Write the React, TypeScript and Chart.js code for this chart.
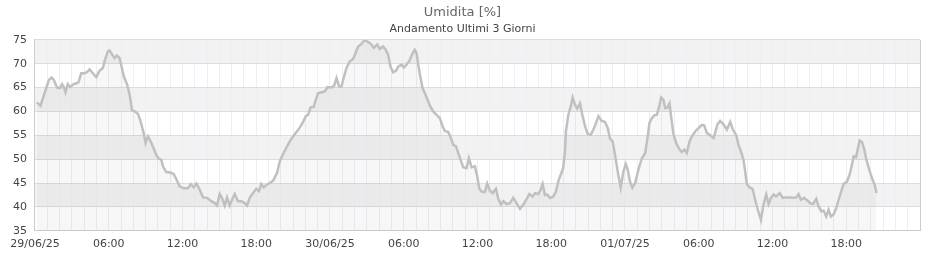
import React, { useEffect, useRef } from 'react';
import { Chart, registerables } from 'chart.js';

Chart.register(...registerables);

const titleText = 'Umidita [%]';
const subtitleText = 'Andamento Ultimi 3 Giorni';

// hours since 29/06/25 00:00
const hours = [
  0.15, 0.45, 0.77, 1.13, 1.34, 1.53, 1.8, 2.05, 2.2, 2.35, 2.48, 2.67, 2.86, 3.08, 3.35, 3.54, 3.76, 4.03, 4.22, 4.44,
  4.71, 4.98, 5.25, 5.52, 5.69, 5.93, 6.07, 6.28, 6.47, 6.66, 6.88, 7.04, 7.23, 7.5, 7.7, 7.89, 8.18, 8.4, 8.59, 8.84,
  9.0, 9.19, 9.38, 9.65, 9.87, 10.06, 10.27, 10.41, 10.68, 11.0, 11.28, 11.5, 11.77, 12.1, 12.45, 12.67, 12.91, 13.13, 13.34,
  13.67, 14.0, 14.35, 14.62, 14.81, 15.03, 15.24, 15.43, 15.62, 15.84, 16.03, 16.25, 16.52, 16.79, 17.06, 17.25, 17.47,
  17.74, 18.0, 18.22, 18.41, 18.6, 18.82, 19.1, 19.37, 19.69, 19.91, 20.18, 20.51, 20.86, 21.27, 21.54, 21.81, 22.03,
  22.22, 22.41, 22.68, 22.84, 23.03, 23.31, 23.58, 23.79, 24.12, 24.34, 24.53, 24.75, 24.93, 25.12, 25.34, 25.61, 25.88,
  26.07, 26.29, 26.56, 26.83, 27.1, 27.3, 27.56, 27.84, 28.05, 28.32, 28.54, 28.73, 28.92, 29.14, 29.36, 29.55, 29.82,
  30.01, 30.22, 30.44, 30.69, 30.9, 31.04, 31.18, 31.37, 31.53, 31.72, 31.91, 32.13, 32.4, 32.67, 32.94, 33.16, 33.35,
  33.62, 33.84, 34.03, 34.25, 34.43, 34.62, 34.84, 35.11, 35.3, 35.52, 35.79, 35.98, 36.14, 36.33, 36.6, 36.79, 37.01,
  37.23, 37.5, 37.69, 37.91, 38.1, 38.37, 38.64, 38.91, 39.18, 39.46, 39.73, 40.0, 40.22, 40.49, 40.68, 40.95, 41.14,
  41.3, 41.49, 41.68, 41.9, 42.17, 42.38, 42.57, 42.76, 42.97, 43.11, 43.19, 43.39, 43.58, 43.74, 43.93, 44.12, 44.34,
  44.53, 44.75, 44.96, 45.21, 45.43, 45.65, 45.84, 46.11, 46.38, 46.6, 46.78, 47.0, 47.19, 47.41, 47.65, 47.87, 48.06,
  48.22, 48.41, 48.6, 48.82, 49.09, 49.36, 49.64, 49.83, 49.99, 50.18, 50.4, 50.59, 50.78, 50.94, 51.13, 51.27, 51.45,
  51.62, 51.75, 51.94, 52.16, 52.44, 52.62, 52.84, 53.03, 53.25, 53.44, 53.71, 53.98, 54.25, 54.44, 54.66, 54.93, 55.2,
  55.33, 55.52, 55.74, 56.01, 56.29, 56.56, 56.78, 57.05, 57.23, 57.45, 57.64, 57.78, 57.91, 58.13, 58.38, 58.59, 58.81,
  59.06, 59.27, 59.49, 59.68, 59.87, 60.09, 60.3, 60.58, 60.84, 61.12, 61.45, 61.71, 61.93, 62.12, 62.31, 62.58, 62.86,
  63.07, 63.29, 63.56, 63.75, 63.97, 64.16, 64.37, 64.56, 64.75, 64.97, 65.19, 65.38, 65.59, 65.78, 66.05, 66.27, 66.46,
  66.6, 66.79, 66.93, 67.09, 67.28, 67.47, 67.64, 67.83, 68.1, 68.32, 68.46,
];

const humidity = [
  61.9, 61.2, 63.8, 66.6, 67.1, 66.6, 65.0, 64.9, 65.7, 65.1, 64.0, 65.7, 65.1, 65.6, 65.9, 66.1, 68.0, 68.0, 68.2, 68.8,
  68.0, 67.2, 68.5, 69.1, 70.8, 72.6, 72.8, 71.9, 71.2, 71.7, 71.2, 69.4, 67.3, 65.6, 63.5, 60.3, 59.9, 59.4, 57.9, 55.5,
  53.4, 54.8, 53.9, 52.3, 50.9, 50.1, 49.9, 48.5, 47.3, 47.2, 46.9, 45.8, 44.3, 43.9, 43.9, 44.8, 44.1, 44.9, 43.9,
  42.0, 41.9, 41.2, 40.8, 40.3, 42.7, 41.7, 40.3, 42.0, 40.3, 41.5, 42.7, 41.2, 41.2, 40.8, 40.3, 41.9,
  42.9, 43.8, 43.3, 44.8, 44.1, 44.6, 45.0, 45.5, 47.1, 49.5, 51.1, 52.7, 54.3, 55.7, 56.6, 57.8, 59.0,
  59.3, 60.8, 61.0, 62.4, 63.8, 64.0, 64.2, 65.1, 65.0, 65.4, 67.0, 65.2, 65.2, 67.1, 69.1, 70.5, 71.0,
  72.2, 73.6, 74.1, 75.0, 74.5, 74.2, 73.3, 74.0, 73.1, 73.6, 72.9, 71.9, 69.4, 68.2, 68.5, 69.4, 69.8,
  69.2, 69.8, 70.5, 72.0, 72.9, 72.2, 69.8, 67.0, 64.9, 63.8, 62.6, 61.2, 60.0, 59.3, 58.6, 56.9, 55.9,
  55.7, 54.4, 53.0, 52.7, 51.3, 49.9, 48.3, 48.1, 50.2, 48.3, 48.5, 46.4, 43.9, 43.2, 43.1, 44.9, 43.4,
  42.9, 43.8, 41.7, 40.5, 41.2, 40.6, 40.8, 41.9, 40.8, 39.6, 40.5, 41.7, 42.7, 42.2, 42.9, 42.7, 43.6,
  44.8, 42.5, 42.6, 41.9, 42.2, 43.2, 45.3, 46.7, 48.1, 51.6, 55.8, 59.3, 61.0, 62.9, 61.4, 60.6, 61.7,
  59.3, 56.9, 55.3, 55.1, 56.2, 57.6, 59.0, 58.0, 57.8, 56.5, 54.3, 53.7, 50.9, 47.4, 44.0, 47.4, 49.0,
  47.8, 45.3, 44.0, 45.0, 47.8, 50.1, 51.3, 54.4, 57.6, 58.6, 59.2, 59.3, 61.0, 62.9, 62.4, 60.7, 60.8,
  61.7, 59.0, 55.3, 53.4, 52.0, 51.5, 52.0, 51.3, 53.7, 54.8, 55.8, 56.5, 57.2, 57.1, 55.5, 55.0, 54.4,
  55.5, 57.3, 58.0, 57.3, 56.2, 57.8, 56.2, 55.0, 53.0, 51.5, 49.9, 47.4, 44.8, 44.1, 43.8, 41.5, 39.4,
  37.3, 40.5, 42.6, 40.6, 41.9, 42.6, 42.2, 42.9, 41.9, 42.0, 42.0, 41.9, 42.0, 42.7, 41.5, 41.9, 41.3,
  40.8, 40.6, 41.7, 40.1, 39.1, 39.2, 38.0, 39.4, 38.0, 38.4, 39.8, 41.5, 43.2, 44.8, 45.3, 46.7, 48.8,
  50.6, 50.4, 52.0, 53.9, 53.6, 52.0, 49.9, 48.1, 46.0, 44.6, 42.9,
];

// one label every 6 hours (0..72)
const xTickLabels = [
  '29/06/25', '06:00', '12:00', '18:00',
  '30/06/25', '06:00', '12:00', '18:00',
  '01/07/25', '06:00', '12:00', '18:00', '',
];
const yMin = 35;
const yMax = 75;
const yStep = 5;
const xMax = 72;

export default function App() {
  const ref = useRef<HTMLCanvasElement>(null);

  useEffect(() => {
    if (!ref.current) return;
    Chart.defaults.font.family = "'DejaVu Sans', sans-serif";

    const bands = {
      id: 'bands',
      beforeDraw(chart: any) {
        const { ctx, chartArea } = chart;
        const y = chart.scales.y;
        ctx.save();
        for (let v = yMin; v < yMax; v += yStep) {
          const idx = (v - yMin) / yStep;
          ctx.fillStyle = idx % 2 === 1 ? '#f2f2f2' : '#ffffff';
          const top = y.getPixelForValue(v + yStep);
          const bot = y.getPixelForValue(v);
          ctx.fillRect(chartArea.left, top, chartArea.right - chartArea.left, bot - top);
        }
        ctx.restore();
      },
    };

    const chart = new Chart(ref.current, {
      type: 'line',
      data: {
        datasets: [
          {
            data: hours.map((h, i) => ({ x: h, y: humidity[i] })),
            borderColor: '#c0c0c0',
            borderWidth: 2.5,
            pointRadius: 0,
            tension: 0,
            fill: 'start',
            backgroundColor: 'rgba(0,0,0,0.03)',
          },
        ],
      },
      options: {
        animation: false,
        responsive: true,
        maintainAspectRatio: false,
        layout: { padding: { left: 5, right: 20, top: 0, bottom: 2 } },
        plugins: {
          legend: { display: false },
          tooltip: { enabled: false },
          title: {
            display: true,
            text: titleText,
            color: '#666',
            font: { size: 13, weight: 'normal' },
            padding: { top: 5, bottom: 2 },
          },
          subtitle: {
            display: true,
            text: subtitleText,
            color: '#444',
            font: { size: 11 },
            padding: { top: 0, bottom: 4 },
          },
        },
        scales: {
          x: {
            type: 'linear',
            min: 0,
            max: xMax,
            grid: {
              color: (c: any) => (c.tick && (c.tick.value === 0 || c.tick.value === xMax) ? '#cccccc' : '#eeeef9'),
              drawTicks: false,
            },
            border: { color: '#cccccc' },
            ticks: {
              stepSize: 1,
              autoSkip: false,
              maxRotation: 0,
              maxTicksLimit: 200,
              padding: 7,
              color: '#444',
              font: { size: 11 },
              callback: (v: any) => (Number(v) % 6 === 0 ? xTickLabels[Number(v) / 6] : ''),
            },
          },
          y: {
            min: yMin,
            max: yMax,
            grid: { color: '#dddddd', drawTicks: false },
            border: { color: '#cccccc' },
            ticks: {
              stepSize: yStep,
              padding: 8,
              color: '#444',
              font: { size: 11 },
            },
          },
        },
      },
      plugins: [bands],
    });
    return () => chart.destroy();
  }, []);

  return (
    <div style={{ position: 'fixed', left: 0, top: 0, width: 940, height: 260 }}>
      <canvas ref={ref} />
    </div>
  );
}
